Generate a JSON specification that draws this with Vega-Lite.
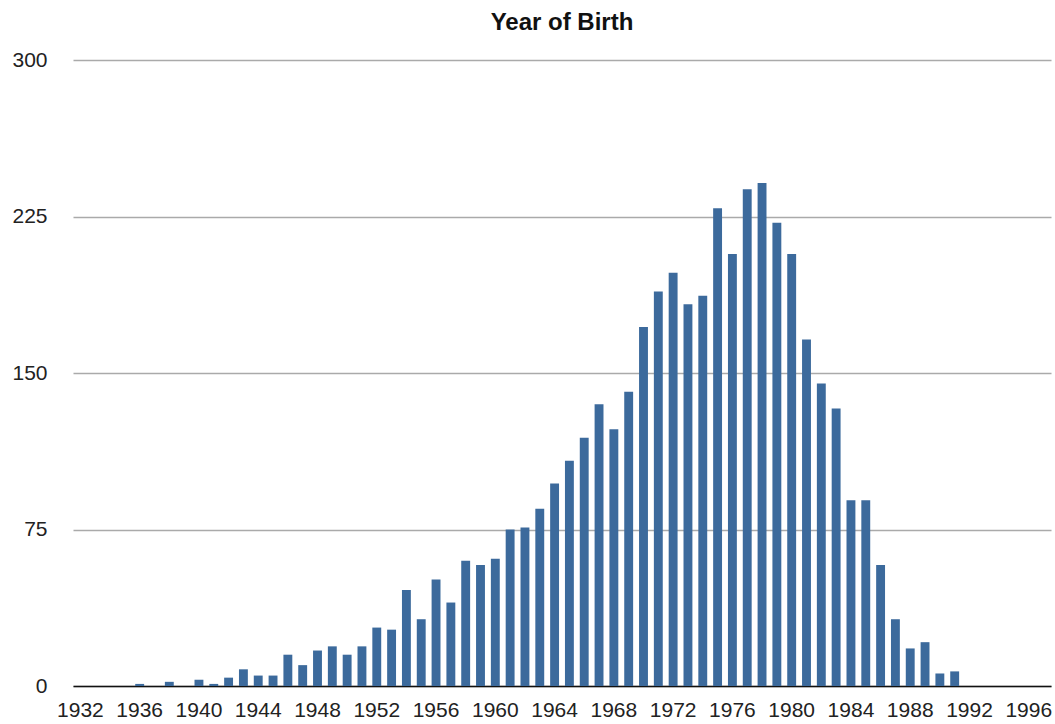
{
  "$schema": "https://vega.github.io/schema/vega-lite/v6.json",
  "autosize": {"type": "none"},
  "width": 978,
  "height": 626,
  "padding": {"left": 73, "top": 60, "right": 4, "bottom": 38},
  "background": "white",
  "title": {
    "text": "Year of Birth",
    "font": "Liberation Sans",
    "fontSize": 24,
    "fontWeight": "bold",
    "color": "#111",
    "frame": "group",
    "offset": 14,
    "anchor": "middle"
  },
  "config": {
    "view": {"stroke": null},
    "font": "Liberation Sans"
  },
  "data": {
    "values": [
      {"year": 1932, "count": 0}, {"year": 1933, "count": 0}, {"year": 1934, "count": 0}, {"year": 1935, "count": 0},
      {"year": 1936, "count": 1}, {"year": 1937, "count": 0}, {"year": 1938, "count": 2}, {"year": 1939, "count": 0},
      {"year": 1940, "count": 3}, {"year": 1941, "count": 1}, {"year": 1942, "count": 4}, {"year": 1943, "count": 8},
      {"year": 1944, "count": 5}, {"year": 1945, "count": 5}, {"year": 1946, "count": 15}, {"year": 1947, "count": 10},
      {"year": 1948, "count": 17}, {"year": 1949, "count": 19}, {"year": 1950, "count": 15}, {"year": 1951, "count": 19},
      {"year": 1952, "count": 28}, {"year": 1953, "count": 27}, {"year": 1954, "count": 46}, {"year": 1955, "count": 32},
      {"year": 1956, "count": 51}, {"year": 1957, "count": 40}, {"year": 1958, "count": 60}, {"year": 1959, "count": 58},
      {"year": 1960, "count": 61}, {"year": 1961, "count": 75}, {"year": 1962, "count": 76}, {"year": 1963, "count": 85},
      {"year": 1964, "count": 97}, {"year": 1965, "count": 108}, {"year": 1966, "count": 119}, {"year": 1967, "count": 135},
      {"year": 1968, "count": 123}, {"year": 1969, "count": 141}, {"year": 1970, "count": 172}, {"year": 1971, "count": 189},
      {"year": 1972, "count": 198}, {"year": 1973, "count": 183}, {"year": 1974, "count": 187}, {"year": 1975, "count": 229},
      {"year": 1976, "count": 207}, {"year": 1977, "count": 238}, {"year": 1978, "count": 241}, {"year": 1979, "count": 222},
      {"year": 1980, "count": 207}, {"year": 1981, "count": 166}, {"year": 1982, "count": 145}, {"year": 1983, "count": 133},
      {"year": 1984, "count": 89}, {"year": 1985, "count": 89}, {"year": 1986, "count": 58}, {"year": 1987, "count": 32},
      {"year": 1988, "count": 18}, {"year": 1989, "count": 21}, {"year": 1990, "count": 6}, {"year": 1991, "count": 7},
      {"year": 1992, "count": 0}, {"year": 1993, "count": 0}, {"year": 1994, "count": 0}, {"year": 1995, "count": 0},
      {"year": 1996, "count": 0}, {"year": 1997, "count": 0}
    ]
  },
  "mark": {"type": "bar", "color": "#3c6a9c"},
  "encoding": {
    "x": {
      "field": "year",
      "type": "ordinal",
      "sort": "ascending",
      "scale": {"paddingInner": 0.4, "paddingOuter": 0.2},
      "axis": {
        "title": null,
        "values": [1932, 1936, 1940, 1944, 1948, 1952, 1956, 1960, 1964, 1968, 1972, 1976, 1980, 1984, 1988, 1992, 1996],
        "labelAngle": 0,
        "labelFontSize": 21,
        "labelColor": "#222",
        "labelPadding": 13,
        "labelOverlap": false,
        "ticks": false,
        "domainColor": "#111",
        "domainWidth": 1.6,
        "grid": false
      }
    },
    "y": {
      "field": "count",
      "type": "quantitative",
      "scale": {"domain": [0, 300], "nice": false},
      "axis": {
        "title": null,
        "values": [0, 75, 150, 225, 300],
        "labelFontSize": 21,
        "labelColor": "#222",
        "labelPadding": 26,
        "ticks": false,
        "domain": false,
        "grid": true,
        "gridColor": "#aaaaaa",
        "gridWidth": 1.3
      }
    }
  }
}
